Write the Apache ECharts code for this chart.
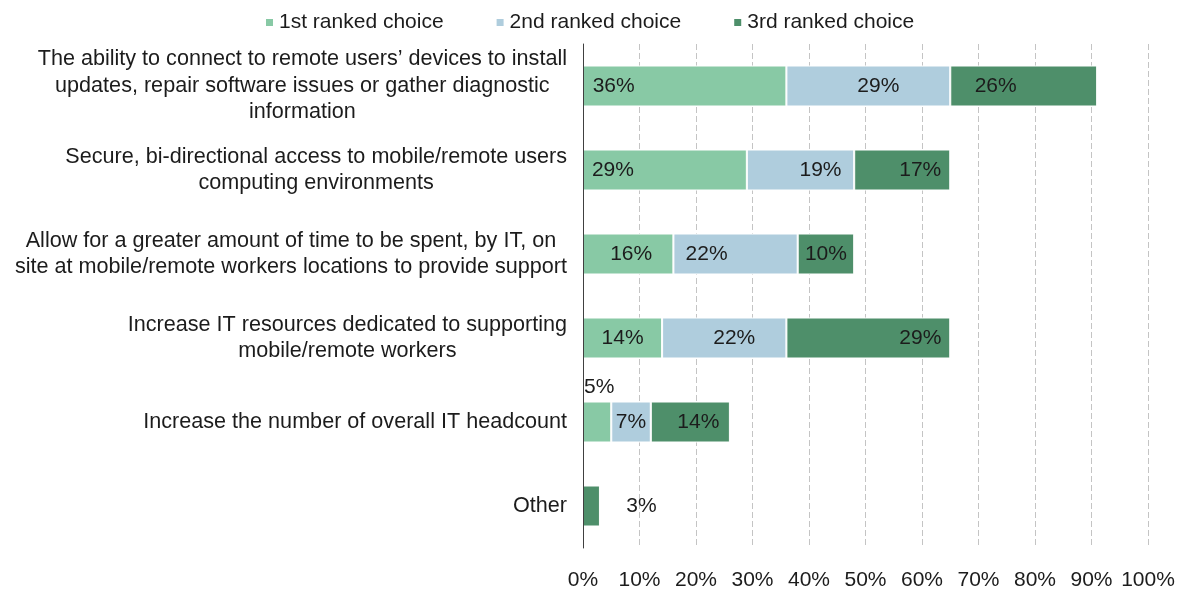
<!DOCTYPE html>
<html>
<head>
<meta charset="utf-8">
<script src="https://cdn.jsdelivr.net/npm/echarts@6/dist/echarts.min.js"></script>
<style>
  html, body { margin: 0; padding: 0; background: #fff; }
  #chart { width: 1184px; height: 592px; }
</style>
</head>
<body>
<div id="chart"></div>
<script>
const categories = [
  "The ability to connect to remote users\u2019 devices to install\nupdates, repair software issues or gather diagnostic\ninformation",
  "Secure, bi-directional access to mobile/remote users\ncomputing environments",
  "Allow for a greater amount of time to be spent, by IT, on\nsite at mobile/remote workers locations to provide support",
  "Increase IT resources dedicated to supporting\nmobile/remote workers",
  "Increase the number of overall IT headcount",
  "Other",
];
const seriesNames = ["1st ranked choice", "2nd ranked choice", "3rd ranked choice"];
const first = [36, 29, 16, 14, 5, 0];
const second = [29, 19, 22, 22, 7, 0];
const third = [26, 17, 10, 29, 14, 3];
const xTicks = [0, 10, 20, 30, 40, 50, 60, 70, 80, 90, 100];

// label placement, copied by eye from the source (position, dx, dy)
const labelLayout = [
  [["inside", -71, 0], ["inside", -52, 0], ["inside", 3, 0], ["inside", 0, 0], ["top", 2, 0], null],
  [["inside", 10, 0], ["inside", 20, 0], ["inside", -29, 0], ["inside", 10, 0], ["inside", 0, 0], null],
  [["inside", -28, 0], ["inside", 18, 0], ["inside", 0, 0], ["inside", 52, 0], ["inside", 8, 0], ["inside", 50, 0]],
];
const colors = ["#88c9a5", "#afcddd", "#4e8f6a"];

const FONT = "'Liberation Sans', Arial, sans-serif";
const TEXT = "#1c1c1c";

const chart = echarts.init(document.getElementById("chart"));

const buildSeries = (values, idx) => ({
  name: seriesNames[idx],
  type: "bar",
  stack: "total",
  barWidth: 41,
  itemStyle: { color: colors[idx], borderColor: "#fff", borderWidth: 1 },
  data: values.map((v, i) => {
    const lay = labelLayout[idx][i];
    return {
      value: v,
      label: lay
        ? {
            show: true,
            position: lay[0],
            offset: [lay[1], lay[2]],
            distance: 4,
            formatter: "{c}%",
            color: TEXT,
            fontSize: 21,
            fontFamily: FONT,
          }
        : { show: false },
    };
  }),
});

chart.setOption({
  animation: false,
  backgroundColor: "#fff",
  textStyle: { fontFamily: FONT, color: TEXT },
  legend: {
    top: 7,
    left: 259,
    itemWidth: 9,
    itemHeight: 9,
    itemGap: 51,
    icon: "rect",
    textStyle: { fontSize: 21, color: TEXT, fontFamily: FONT },
    data: seriesNames,
  },
  grid: {
    left: 583,
    right: 36,
    top: 44,
    bottom: 44,
    containLabel: false,
    outerBoundsMode: "none",
  },
  xAxis: {
    type: "value",
    min: 0,
    max: 100,
    interval: 10,
    axisLine: { show: false },
    axisTick: { show: false },
    splitLine: { show: true, lineStyle: { color: "#c4c4c4", type: [6, 3], width: 1 } },
    axisLabel: {
      margin: 22,
      fontSize: 21,
      color: TEXT,
      fontFamily: FONT,
      formatter: (v) => (xTicks.includes(v) ? v + "%" : ""),
    },
  },
  yAxis: {
    type: "category",
    inverse: true,
    z: 5,
    data: categories,
    axisLine: { show: true, lineStyle: { color: "#404040", width: 1 } },
    axisTick: { show: false },
    axisLabel: {
      interval: 0,
      margin: 16,
      formatter: (v) => v.split("\n").map((l) => "{c|" + l + "}").join("\n"),
      rich: {
        c: { align: "center", fontSize: 21.6, lineHeight: 26.5, color: TEXT, fontFamily: FONT },
      },
    },
  },
  series: [buildSeries(first, 0), buildSeries(second, 1), buildSeries(third, 2)],
});
</script>
</body>
</html>
